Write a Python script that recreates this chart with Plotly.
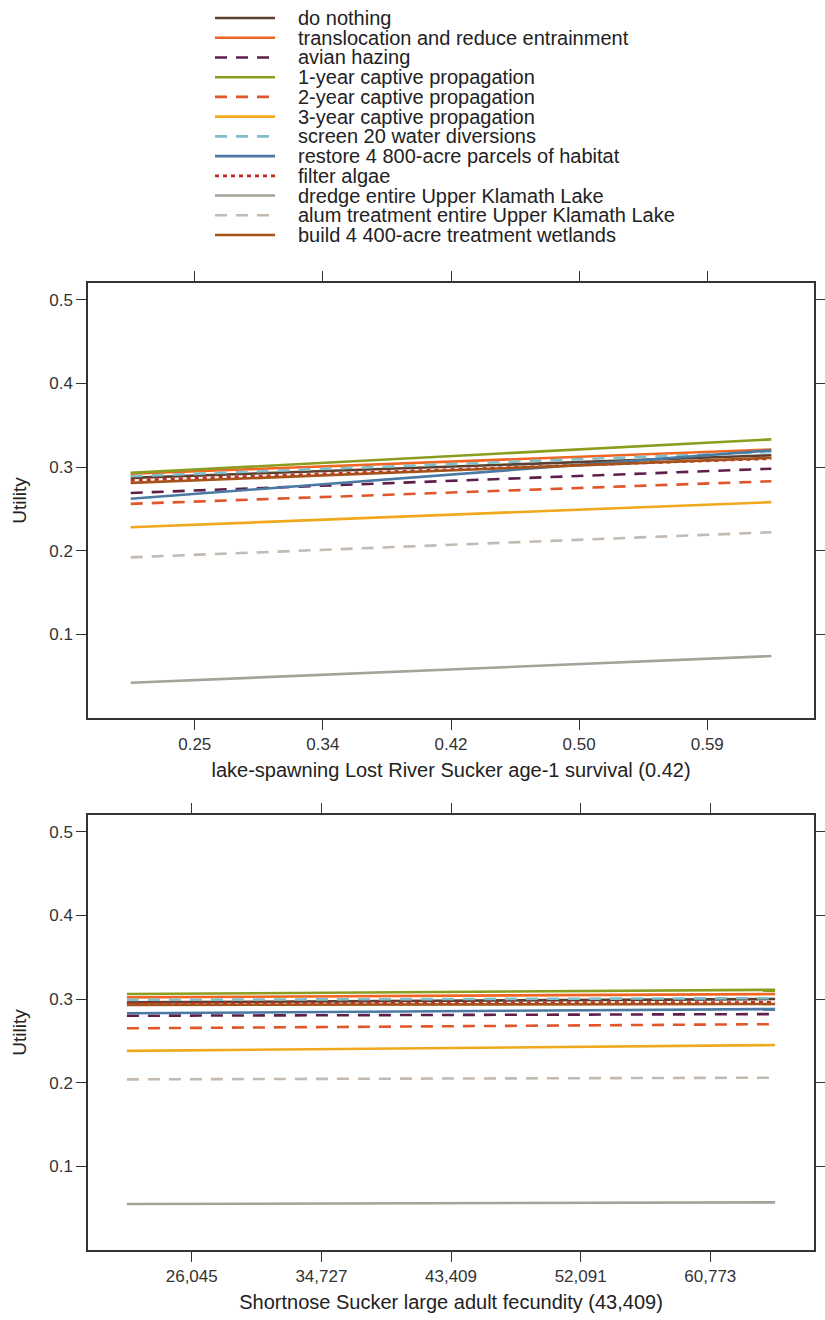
import plotly.graph_objects as go
from plotly.subplots import make_subplots

names = [
    "do nothing",
    "translocation and reduce entrainment",
    "avian hazing",
    "1-year captive propagation",
    "2-year captive propagation",
    "3-year captive propagation",
    "screen 20 water diversions",
    "restore 4 800-acre parcels of habitat",
    "filter algae",
    "dredge entire Upper Klamath Lake",
    "alum treatment entire Upper Klamath Lake",
    "build 4 400-acre treatment wetlands",
]
colors = ["#5b4030", "#f26522", "#5e1f4d", "#8c9c1e", "#e0562a", "#f0a81c",
          "#80bfca", "#4a7aa4", "#c8281e", "#a3a39a", "#c3bab2", "#a6521a"]
dashes = ["solid", "solid", "12px,9px", "solid", "12px,9px", "solid",
          "12px,9px", "solid", "4px,4px", "solid", "12px,9px", "solid"]

# Panel 1: lake-spawning Lost River Sucker age-1 survival
survival_x = [0.21, 0.63]
survival_y = {
    "do nothing": [0.287, 0.314],
    "translocation and reduce entrainment": [0.292, 0.321],
    "avian hazing": [0.269, 0.298],
    "1-year captive propagation": [0.293, 0.333],
    "2-year captive propagation": [0.256, 0.283],
    "3-year captive propagation": [0.228, 0.258],
    "screen 20 water diversions": [0.289, 0.318],
    "restore 4 800-acre parcels of habitat": [0.262, 0.320],
    "filter algae": [0.284, 0.310],
    "dredge entire Upper Klamath Lake": [0.042, 0.074],
    "alum treatment entire Upper Klamath Lake": [0.192, 0.222],
    "build 4 400-acre treatment wetlands": [0.281, 0.311],
}
survival_ticks = [0.252, 0.336, 0.42, 0.504, 0.588]
survival_ticktext = ["0.25", "0.34", "0.42", "0.50", "0.59"]

# Panel 2: Shortnose Sucker large adult fecundity
fecundity_x = [21704.5, 65113.5]
fecundity_y = {
    "do nothing": [0.296, 0.300],
    "translocation and reduce entrainment": [0.302, 0.306],
    "avian hazing": [0.280, 0.282],
    "1-year captive propagation": [0.306, 0.311],
    "2-year captive propagation": [0.265, 0.270],
    "3-year captive propagation": [0.238, 0.245],
    "screen 20 water diversions": [0.299, 0.301],
    "restore 4 800-acre parcels of habitat": [0.283, 0.288],
    "filter algae": [0.295, 0.296],
    "dredge entire Upper Klamath Lake": [0.055, 0.057],
    "alum treatment entire Upper Klamath Lake": [0.204, 0.206],
    "build 4 400-acre treatment wetlands": [0.293, 0.294],
}
fecundity_ticks = [26045.4, 34727.2, 43409, 52090.8, 60772.6]
fecundity_ticktext = ["26,045", "34,727", "43,409", "52,091", "60,773"]

y_ticks = [0.1, 0.2, 0.3, 0.4, 0.5]

FONT = "Liberation Sans, Arial, sans-serif"
fig = make_subplots(rows=2, cols=1)

for i, n in enumerate(names):
    fig.add_trace(go.Scatter(x=survival_x, y=survival_y[n], mode="lines", name=n,
                             line=dict(color=colors[i], width=2.6, dash=dashes[i]),
                             showlegend=False), row=1, col=1)
    fig.add_trace(go.Scatter(x=fecundity_x, y=fecundity_y[n], mode="lines", name=n,
                             line=dict(color=colors[i], width=2.6, dash=dashes[i]),
                             showlegend=False), row=2, col=1)

# Legend (drawn as a key block at the top of the page)
W, H = 825.0, 1320.0
key_top, key_step = 18.0, 19.73
key_x0, key_x1, key_text_x = 215.0, 275.0, 296.0
for i, n in enumerate(names):
    yp = 1 - (key_top + i * key_step) / H
    fig.add_shape(type="line", xref="paper", yref="paper",
                  x0=key_x0 / W, x1=key_x1 / W, y0=yp, y1=yp,
                  line=dict(color=colors[i], width=2.6, dash=dashes[i]))
    fig.add_annotation(xref="paper", yref="paper", x=key_text_x / W, y=yp,
                       xanchor="left", yanchor="middle", showarrow=False, text=n,
                       font=dict(family=FONT, size=20, color="#222222"))

axis_common = dict(showline=True, linecolor="#333333", linewidth=1.5, mirror="ticks",
                   ticks="outside", ticklen=10, tickwidth=1.3, tickcolor="#333333",
                   showgrid=False, zeroline=False,
                   tickfont=dict(family=FONT, size=17, color="#333333"))

fig.update_xaxes(**axis_common)
fig.update_yaxes(**axis_common)

fig.update_xaxes(row=1, col=1, domain=[0.1067, 0.9867], range=[0.182, 0.658],
                 tickvals=survival_ticks, ticktext=survival_ticktext,
                 title=dict(text="lake-spawning Lost River Sucker age-1 survival (0.42)",
                            font=dict(family=FONT, size=20, color="#222222"), standoff=10))
fig.update_xaxes(row=2, col=1, domain=[0.1067, 0.9867], range=[19100, 67719],
                 tickvals=fecundity_ticks, ticktext=fecundity_ticktext,
                 title=dict(text="Shortnose Sucker large adult fecundity (43,409)",
                            font=dict(family=FONT, size=20, color="#222222"), standoff=10))
for r, dom in ((1, [0.4561, 0.7856]), (2, [0.0530, 0.3826])):
    fig.update_yaxes(row=r, col=1, domain=dom, range=[0.0, 0.52], tickvals=y_ticks,
                     ticktext=[f"{v:.1f}" for v in y_ticks],
                     title=dict(text="Utility", font=dict(family=FONT, size=19, color="#222222"),
                                standoff=18))

fig.update_layout(
    width=825, height=1320,
    margin=dict(l=0, r=0, t=0, b=0),
    paper_bgcolor="white", plot_bgcolor="white",
    font=dict(family=FONT, size=16, color="#222222"),
    showlegend=False,
)

fig.write_html("out.html")
